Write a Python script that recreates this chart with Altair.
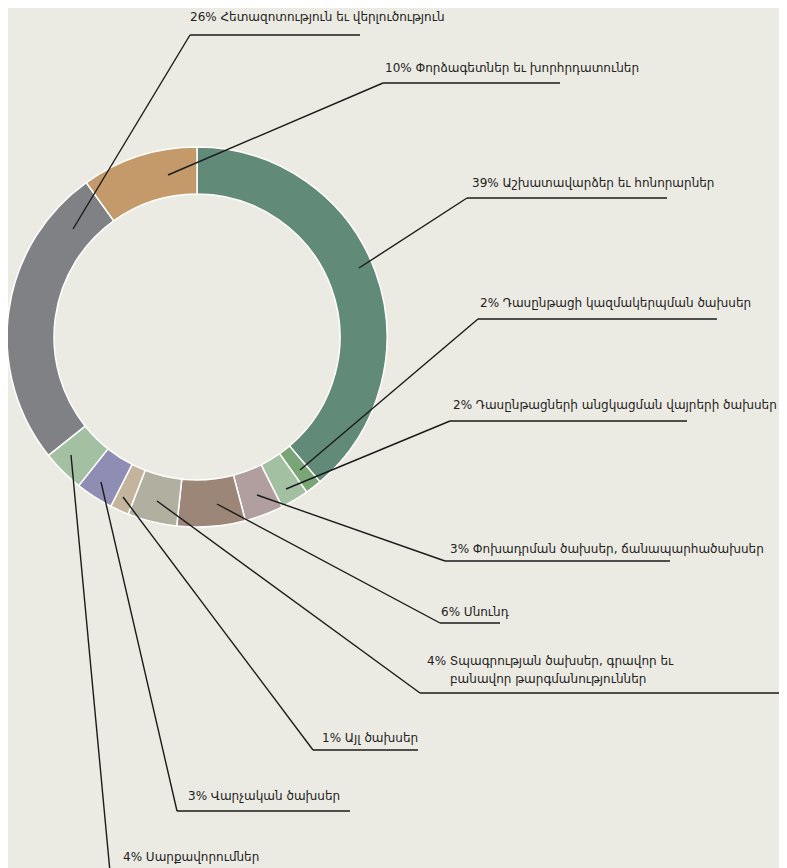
import altair as alt
import pandas as pd

# Segment data (clockwise from top)
categories = [
    "Աշխատավարձեր եւ հոնորարներ",
    "Դասընթացի կազմակերպման ծախսեր",
    "Դասընթացների անցկացման վայրերի ծախսեր",
    "Փոխադրման ծախսեր, ճանապարհածախսեր",
    "Սնունդ",
    "Տպագրության ծախսեր, գրավոր եւ բանավոր թարգմանություններ",
    "Այլ ծախսեր",
    "Վարչական ծախսեր",
    "Սարքավորումներ",
    "Հետազոտություն եւ վերլուծություն",
    "Փորձագետներ եւ խորհրդատուներ",
]
values = [38.8, 1.4, 2.4, 3.3, 5.8, 4.2, 1.6, 3.2, 3.6, 25.8, 9.9]
colors = ["#618a79", "#7aa677", "#a4c0a3", "#b09f9e", "#9c8678", "#b1afa0",
          "#c4b49b", "#8f8db4", "#a4c0a3", "#808185", "#c49a6a"]

# Label texts
label_texts = [
    "26% Հետազոտություն եւ վերլուծություն",
    "10% Փորձագետներ եւ խորհրդատուներ",
    "39% Աշխատավարձեր եւ հոնորարներ",
    "2% Դասընթացի կազմակերպման ծախսեր",
    "2% Դասընթացների անցկացման վայրերի ծախսեր",
    "3% Փոխադրման ծախսեր, ճանապարհածախսեր",
    "6% Սնունդ",
    "4% Տպագրության ծախսեր, գրավոր եւ",
    "բանավոր թարգմանություններ",
    "1% Այլ ծախսեր",
    "3% Վարչական ծախսեր",
    "4% Սարքավորումներ",
]

# Layout (page pixel coordinates) for labels and leader lines
text_x = [190, 385, 472, 480, 453, 450, 441, 427, 450, 322, 188, 123]
text_y = [17, 68, 183, 303, 405, 549, 612, 661, 679, 738, 796, 857]
anchor_x = [73, 168, 359, 300, 286, 257, 217, 157, 123, 101, 71]
anchor_y = [229, 175, 268, 470, 489, 495, 504, 501, 497, 482, 455]
elbow_x = [190, 383, 467, 478, 450, 445, 440, 420, 313, 177, 110]
elbow_y = [35, 83, 198, 319, 421, 561, 623, 693, 750, 811, 872]
end_x = [360, 560, 667, 717, 687, 670, 500, 783, 418, 350, 300]

W, H = 771, 860
CX, CY = 197, 337

seg = pd.DataFrame({"cat": categories, "value": values, "idx": list(range(len(values)))})
txt = pd.DataFrame({"t": label_texts, "x": text_x, "y": text_y})
lines = pd.DataFrame({"ax": anchor_x, "ay": anchor_y, "ex": elbow_x, "ey": elbow_y, "hx": end_x})

xs = alt.Scale(domain=[8, 8 + W], range=[0, W])
ys = alt.Scale(domain=[8, 8 + H], range=[0, H])

arcs = alt.Chart(seg).mark_arc(innerRadius=143, outerRadius=190, stroke="white", strokeWidth=1.5).encode(
    theta=alt.Theta("value:Q", stack=True),
    order=alt.Order("idx:Q"),
    color=alt.Color("cat:N", scale=alt.Scale(domain=categories, range=colors), legend=None, sort=None),
    x=alt.X(datum=CX, scale=xs, axis=None),
    y=alt.Y(datum=CY, scale=ys, axis=None),
)

diag = alt.Chart(lines).mark_rule(color="#1a1a1a", strokeWidth=1.4).encode(
    x=alt.X("ax:Q", scale=xs, axis=None), y=alt.Y("ay:Q", scale=ys, axis=None),
    x2="ex:Q", y2="ey:Q",
)
horiz = alt.Chart(lines).mark_rule(color="#1a1a1a", strokeWidth=1.4).encode(
    x=alt.X("ex:Q", scale=xs, axis=None), y=alt.Y("ey:Q", scale=ys, axis=None),
    x2="hx:Q",
)
texts = alt.Chart(txt).mark_text(align="left", baseline="middle", font="DejaVu Sans",
                                 fontSize=12, color="#222222").encode(
    x=alt.X("x:Q", scale=xs, axis=None), y=alt.Y("y:Q", scale=ys, axis=None), text="t:N",
)

chart = alt.layer(arcs, diag, horiz, texts).properties(
    width=W, height=H, background="#ecebe3", padding=0, autosize=alt.AutoSizeParams(type="none"),
).configure_view(stroke=None)

chart.save("out.html", embed_options={"renderer": "svg", "actions": False})
